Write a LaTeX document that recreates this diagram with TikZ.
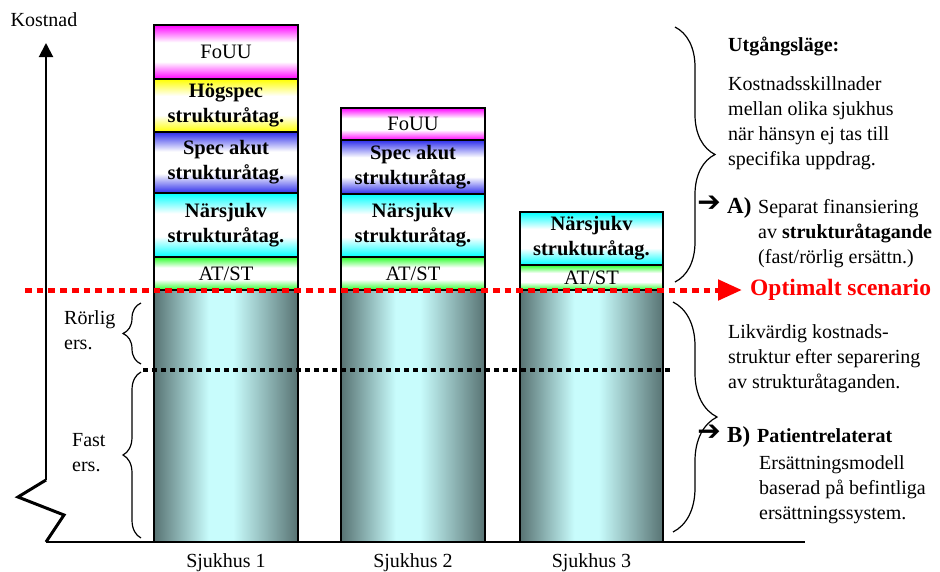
\documentclass[tikz,border=0pt]{standalone}
\usepackage{fontspec}
\setmainfont{Liberation Serif}
\newfontfamily\symfont{DejaVu Sans}
\usetikzlibrary{arrows.meta,decorations.pathreplacing}
\definecolor{cMag}{RGB}{255,0,255}
\definecolor{cYel}{RGB}{255,255,0}
\definecolor{cBlu}{RGB}{45,45,235}
\definecolor{cCya}{RGB}{0,255,255}
\definecolor{cGre}{RGB}{40,255,40}
\definecolor{cDk}{RGB}{88,115,115}
\definecolor{cLt}{RGB}{200,252,252}
\definecolor{cRed}{RGB}{255,0,0}
\pgfdeclareverticalshading{shMag}{100bp}{color(0bp)=(cMag); color(25bp)=(cMag); color(41bp)=(white); color(59bp)=(white); color(75bp)=(cMag); color(100bp)=(cMag)}
\pgfdeclareverticalshading{shYel}{100bp}{color(0bp)=(cYel); color(25bp)=(cYel); color(41bp)=(white); color(59bp)=(white); color(75bp)=(cYel); color(100bp)=(cYel)}
\pgfdeclareverticalshading{shBlu}{100bp}{color(0bp)=(cBlu); color(25bp)=(cBlu); color(41bp)=(white); color(59bp)=(white); color(75bp)=(cBlu); color(100bp)=(cBlu)}
\pgfdeclareverticalshading{shCya}{100bp}{color(0bp)=(cCya); color(25bp)=(cCya); color(41bp)=(white); color(59bp)=(white); color(75bp)=(cCya); color(100bp)=(cCya)}
\pgfdeclareverticalshading{shGre}{100bp}{color(0bp)=(cGre); color(25bp)=(cGre); color(41bp)=(white); color(59bp)=(white); color(75bp)=(cGre); color(100bp)=(cGre)}
\pgfdeclarehorizontalshading{shBase}{100bp}{color(0bp)=(cDk); color(25bp)=(cDk); color(44bp)=(cLt); color(52.5bp)=(cLt); color(75bp)=(cDk); color(100bp)=(cDk)}
\begin{document}
\begin{tikzpicture}[x=1pt,y=-1pt,
  txt/.style={inner sep=0pt, font=\fontsize{20}{25}\selectfont, align=left},
  txtb/.style={inner sep=0pt, font=\fontsize{20}{25}\selectfont\bfseries},
  lab/.style={inner sep=0pt, font=\fontsize{23}{25}\selectfont\bfseries},
  arrsym/.style={inner sep=0pt, font=\symfont\bfseries\fontsize{28}{28}\selectfont},
  seg/.style={draw=black, line width=1.6pt, inner sep=0pt, align=center, minimum width=144pt, font=\fontsize{20.5}{25}\selectfont},
  segb/.style={seg, font=\fontsize{20.5}{25}\selectfont\bfseries},
  fouu/.style={seg, shade, shading=shMag},
  hog/.style={segb, shade, shading=shYel},
  spec/.style={segb, shade, shading=shBlu},
  nar/.style={segb, shade, shading=shCya},
  atst/.style={seg, shade, shading=shGre},
  basebar/.style={draw=black, line width=1.6pt, inner sep=0pt, minimum width=144pt, minimum height=252pt, shade, shading=shBase},
  bracel/.style={decorate, line width=1.2pt},
]
\useasboundingbox (0,0) rectangle (940,571);
% bar 1
\node[fouu, minimum height=54pt] (b1f) at (226,52) {FoUU};
\node[hog, minimum height=53pt] (b1h) at (226,105.5) {Högspec\\strukturåtag.};
\node[spec, minimum height=61pt] (b1s) at (226,162.5) {Spec akut\\strukturåtag.};
\node[nar, minimum height=64pt] (b1n) at (226,225) {Närsjukv\\strukturåtag.};
\node[atst, minimum height=33pt] (b1a) at (226,273.5) {AT/ST};
\node[basebar] (b1b) at (226,416) {};
% bar 2
\node[fouu, minimum height=32pt] (b2f) at (413,124) {FoUU};
\node[spec, minimum height=54pt] (b2s) at (413,167) {Spec akut\\strukturåtag.};
\node[nar, minimum height=63pt] (b2n) at (413,225.5) {Närsjukv\\strukturåtag.};
\node[atst, minimum height=33pt] (b2a) at (413,273.5) {AT/ST};
\node[basebar] (b2b) at (413,416) {};
% bar 3
\node[nar, minimum height=53pt, minimum width=143pt] (b3n) at (591.5,238.5) {Närsjukv\\strukturåtag.};
\node[atst, minimum height=25pt, minimum width=143pt] (b3a) at (591.5,277.5) {AT/ST};
\node[basebar, minimum width=143pt] (b3b) at (591.5,416) {};
% axis
\coordinate (ax0) at (46,480);
\coordinate (axtop) at (46,43);
\coordinate (zz1) at (18,497);
\coordinate (zz2) at (64,515);
\coordinate (org) at (46,542);
\coordinate (xend) at (805,542);
\draw[line width=2pt, -{Triangle[length=14pt,width=14pt]}] (ax0) -- (axtop);
\draw[line width=3pt] (ax0) -- (zz1) -- (zz2) -- (org);
\draw[line width=2.5pt] (org) -- (xend);
\node[inner sep=0pt, anchor=base, font=\fontsize{20}{25}\selectfont] (kostnad) at (44,26) {Kostnad};
% dotted lines
\coordinate (bd0) at (143,370);
\coordinate (bd1) at (673,370);
\draw[line width=4pt, dash pattern=on 5pt off 4pt] (bd0) -- (bd1);
\coordinate (rs) at (25,290);
\coordinate (re) at (742,290);
\draw[cRed, line width=5pt, dash pattern=on 6.7pt off 5pt, -{Triangle[length=24pt,width=20pt]}] (rs) -- (re);
\node[inner sep=0pt, anchor=base west, text=cRed, font=\fontsize{23.5}{25}\selectfont\bfseries] (opt) at (750,295) {Optimalt scenario};
% braces
\draw[bracel, decoration={brace, amplitude=18pt}] (141,364) -- (141,303);
\draw[bracel, decoration={brace, amplitude=18pt}] (141,538) -- (141,372);
\draw[bracel, decoration={brace, amplitude=40pt}] (675,27) -- (675,282);
\draw[bracel, decoration={brace, amplitude=44pt}] (673,302) -- (673,532);
% left labels (base = last line)
\node[txt, anchor=base west] (rorl) at (64,349) {Rörlig\\ers.};
\node[txt, anchor=base west] (fast) at (72,471) {Fast\\ers.};
% right texts
\node[txtb, anchor=base west] (utg) at (728,51) {Utgångsläge:};
\node[txt, anchor=base west] (kost) at (728,165) {Kostnadsskillnader\\mellan olika sjukhus\\när hänsyn ej tas till\\specifika uppdrag.};
\node[arrsym, anchor=center] (arA) at (709,204) {➔};
\node[lab, anchor=base west] (labA) at (727,213) {A)};
\node[txt, anchor=base west] (txA) at (758,263) {Separat finansiering\\av \textbf{strukturåtagande}\\(fast/rörlig ersättn.)};
\node[txt, anchor=base west] (likv) at (728,388) {Likvärdig kostnads-\\struktur efter separering\\av strukturåtaganden.};
\node[arrsym, anchor=center] (arB) at (709,433) {➔};
\node[lab, anchor=base west] (labB) at (727,442) {B)};
\node[txtb, anchor=base west] (pat) at (757,442) {Patientrelaterat};
\node[txt, anchor=base west] (ers) at (759,519) {Ersättningsmodell\\baserad på befintliga\\ersättningssystem.};
% bar labels
\node[inner sep=0pt, anchor=base, font=\fontsize{20}{25}\selectfont] (s1) at (226,567) {Sjukhus 1};
\node[inner sep=0pt, anchor=base, font=\fontsize{20}{25}\selectfont] (s2) at (413,567) {Sjukhus 2};
\node[inner sep=0pt, anchor=base, font=\fontsize{20}{25}\selectfont] (s3) at (591.5,567) {Sjukhus 3};
\end{tikzpicture}
\end{document}
